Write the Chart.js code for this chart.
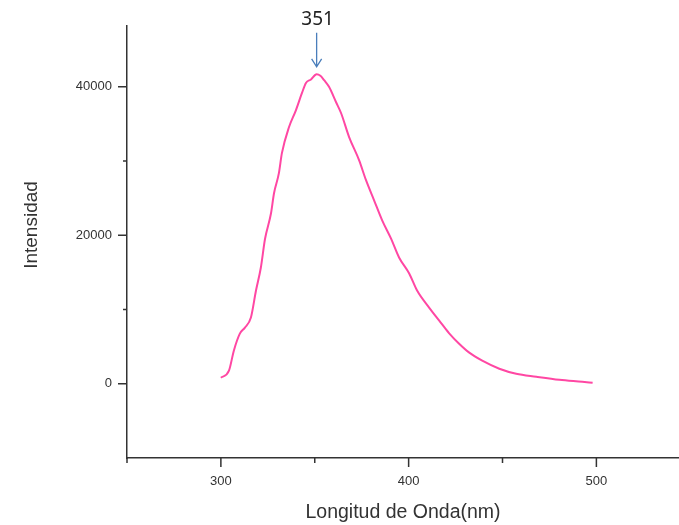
<!DOCTYPE html>
<html>
<head>
<meta charset="utf-8">
<script src="https://cdn.jsdelivr.net/npm/chart.js@4.4.1/dist/chart.umd.min.js"></script>
<style>
  html, body { margin: 0; padding: 0; background: #fff; }
  #wrap { width: 679px; height: 525px; }
</style>
</head>
<body>
<div id="wrap"><canvas id="grafico" width="679" height="525"></canvas></div>
<script>
// Espectro de emisión: longitud de onda (nm) vs intensidad
const longitudes = [300, 304.3, 306.9, 310.1, 312.8, 316, 318.7, 321.3, 323.5, 326.7, 328.3, 330.9, 332.5,
    336.3, 340, 343.2, 345.3, 348, 351, 353, 355, 357.6, 361.3, 364, 368.3, 373.6, 377.3, 381.6, 385.9,
    390.7, 394.9, 400.3, 404.5, 410.9, 416.3, 421.6, 426.9, 432.3, 439.2, 448.3, 457.3, 468, 480.3, 492.5, 498];
const intensidades = [810, 1760, 4460, 6750, 7570, 8920, 12560, 15670, 19500, 22970, 25670, 28370, 31070,
    34590, 36880, 39180, 40530, 41000, 41700, 41500, 40900, 40000, 37960, 36480, 33240, 30130, 27430, 24720, 22020,
    19520, 17020, 14860, 12560, 10270, 8510, 6800, 5400, 4190, 3110, 2030, 1350, 950, 540, 270, 135];

const ticksX = [250, 300, 350, 400, 450, 500];
const ticksY = [0, 10000, 20000, 30000, 40000];
const tituloX = 'Longitud de Onda(nm)';
const tituloY = 'Intensidad';

// Anotación del pico
const picoX = 351;
const picoTexto = '351';
const flechaArriba = 47300;
const flechaAbajo = 42700;
const textoY = 49050;

const COLOR_EJE = '#333';
const FUENTE = 'Liberation Sans, Arial, sans-serif';

// Marcas de los ejes (mayores y menores) y anotación
const pluginExtras = {
    id: 'extras',
    afterDraw(chart) {
        const { ctx, scales: { x, y } } = chart;
        const baseY = y.getPixelForValue(y.min);
        const baseX = x.getPixelForValue(x.min);
        ctx.save();
        ctx.strokeStyle = COLOR_EJE;
        ctx.lineWidth = 1.5;
        ctx.beginPath();
        x.ticks.forEach(t => {
            const px = x.getPixelForValue(t.value);
            const largo = t.value % 100 === 0 ? 9 : 5;
            ctx.moveTo(px, baseY);
            ctx.lineTo(px, baseY + largo);
        });
        y.ticks.forEach(t => {
            const py = y.getPixelForValue(t.value);
            const largo = t.value % 20000 === 0 ? 9 : 4;
            ctx.moveTo(baseX - largo, py);
            ctx.lineTo(baseX, py);
        });
        ctx.stroke();

        // título del eje Y
        ctx.fillStyle = COLOR_EJE;
        ctx.font = '19px ' + FUENTE;
        ctx.textAlign = 'center';
        ctx.textBaseline = 'middle';
        ctx.translate(32, 225);
        ctx.rotate(-Math.PI / 2);
        ctx.fillText(tituloY, 0, 0);
        ctx.restore();

        // flecha y etiqueta del pico
        const ax = x.getPixelForValue(picoX);
        const a1 = y.getPixelForValue(flechaArriba);
        const a2 = y.getPixelForValue(flechaAbajo);
        ctx.save();
        ctx.strokeStyle = '#4a7ebb';
        ctx.lineWidth = 1.3;
        ctx.beginPath();
        ctx.moveTo(ax, a1);
        ctx.lineTo(ax, a2);
        ctx.moveTo(ax - 5, a2 - 8);
        ctx.lineTo(ax, a2);
        ctx.lineTo(ax + 5, a2 - 8);
        ctx.stroke();
        ctx.fillStyle = '#222';
        ctx.font = '19px "Noto Sans", sans-serif';
        ctx.textAlign = 'center';
        ctx.textBaseline = 'middle';
        ctx.fillText(picoTexto, ax + 1, y.getPixelForValue(textoY));
        ctx.restore();
    }
};

new Chart(document.getElementById('grafico'), {
    type: 'line',
    data: {
        datasets: [{
            data: longitudes.map((l, i) => ({ x: l, y: intensidades[i] })),
            borderColor: '#ff47a3',
            borderWidth: 2,
            pointRadius: 0,
            cubicInterpolationMode: 'monotone',
            fill: false
        }]
    },
    options: {
        responsive: false,
        animation: false,
        devicePixelRatio: 1,
        layout: { padding: { top: 26, right: 0, left: 0, bottom: 0 } },
        plugins: {
            legend: { display: false },
            tooltip: { enabled: false }
        },
        scales: {
            x: {
                type: 'linear',
                min: 250,
                max: 544,
                afterBuildTicks: (s) => { s.ticks = ticksX.map(v => ({ value: v })); },
                afterFit: (s) => { s.height = 67; },
                grid: { display: false, drawTicks: false },
                border: { display: true, color: COLOR_EJE, width: 1.5 },
                ticks: {
                    autoSkip: false,
                    maxRotation: 0,
                    padding: 16,
                    color: COLOR_EJE,
                    font: { family: FUENTE, size: 13 },
                    callback: (v) => v % 100 === 0 ? String(v) : ''
                },
                title: {
                    display: true,
                    text: tituloX,
                    color: COLOR_EJE,
                    font: { family: FUENTE, size: 19.5 },
                    padding: { top: 0, bottom: 1 }
                }
            },
            y: {
                min: -10000,
                max: 48200,
                afterBuildTicks: (s) => { s.ticks = ticksY.map(v => ({ value: v })); },
                afterFit: (s) => { s.width = 127; },
                grid: { display: false, drawTicks: false },
                border: { display: true, color: COLOR_EJE, width: 1.5 },
                ticks: {
                    autoSkip: false,
                    padding: 15,
                    color: COLOR_EJE,
                    font: { family: FUENTE, size: 13 },
                    callback: (v) => v % 20000 === 0 ? String(v) : ''
                }
            }
        }
    },
    plugins: [pluginExtras]
});
</script>
</body>
</html>
